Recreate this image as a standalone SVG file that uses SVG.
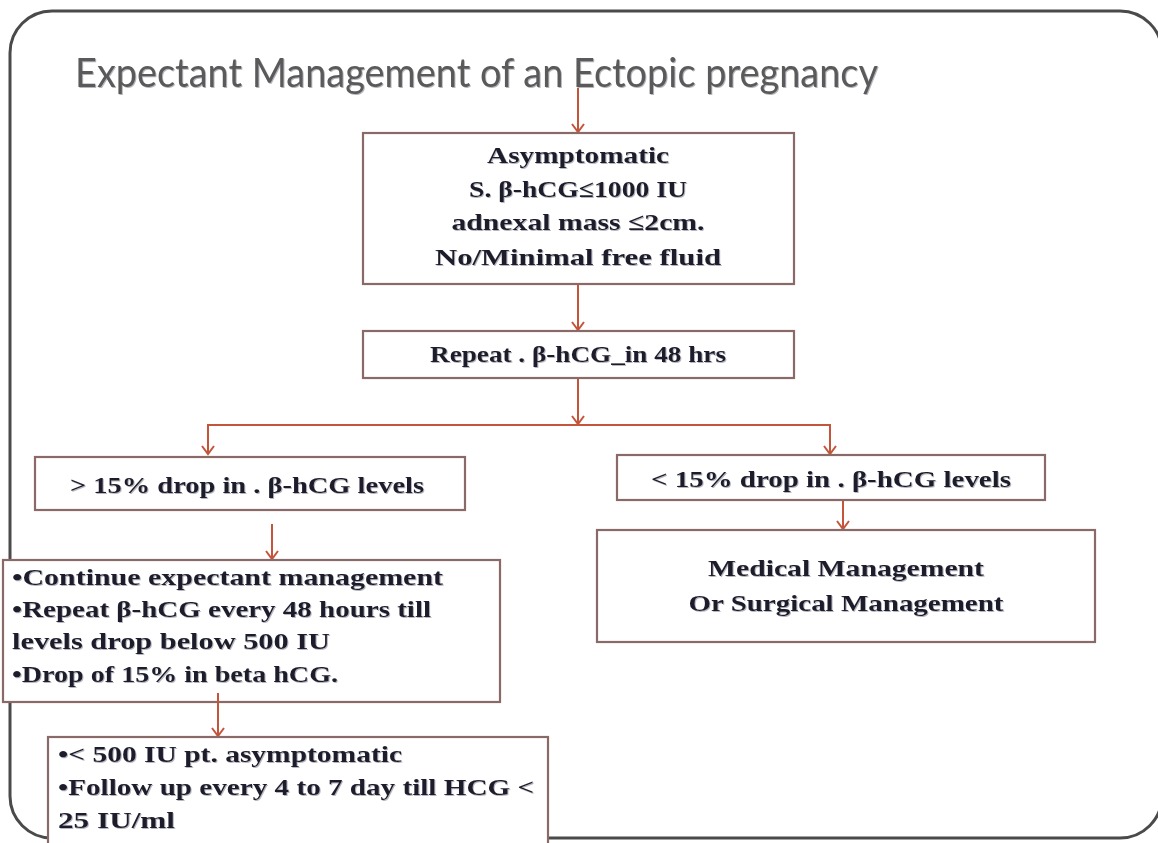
<svg xmlns="http://www.w3.org/2000/svg" width="1158" height="843" viewBox="0 0 1158 843">
<style>
.box{fill:#ffffff;stroke:#8a6a68;stroke-width:2.2}
.t{font-family:"Liberation Serif","Times New Roman",serif;font-weight:bold;font-size:24px;fill:#1c1c2c}
.c{text-anchor:middle}
.con{stroke:#c4553a;stroke-width:2;fill:none}
</style>
<defs>
<marker id="ah" markerUnits="userSpaceOnUse" markerWidth="12" markerHeight="14" viewBox="0 0 12 14" refX="10" refY="7" orient="auto-start-reverse">
<path d="M2,1 L10,7 L2,13" fill="none" stroke="#c4553a" stroke-width="2"/>
</marker>
<filter id="sh" x="-5%" y="-20%" width="110%" height="140%">
<feDropShadow dx="1" dy="1" stdDeviation="0.6" flood-color="#7a7a8a" flood-opacity="0.55"/>
</filter>
</defs>
<rect width="1158" height="843" fill="#ffffff"/>
<rect id="frame" x="10" y="11" width="1152" height="827" rx="42" ry="42" fill="none" stroke="#4a4a4a" stroke-width="3"/>
<g id="title">
<text x="75" y="87" font-family="Lato,'Open Sans',sans-serif" font-size="40" fill="#5a5a5a" textLength="803" lengthAdjust="spacingAndGlyphs" filter="url(#sh)">Expectant Management of an Ectopic pregnancy</text>
</g>
<g id="connectors">
<line class="con" x1="578" y1="88" x2="578" y2="132" marker-end="url(#ah)"/>
<line class="con" x1="578" y1="285" x2="578" y2="330" marker-end="url(#ah)"/>
<line class="con" x1="578" y1="379" x2="578" y2="424" marker-end="url(#ah)"/>
<polyline class="con" points="208,454 208,425 830,425 830,454" stroke="#d26e52" marker-start="url(#ah)" marker-end="url(#ah)"/>
<line class="con" x1="843" y1="501" x2="843" y2="529" marker-end="url(#ah)"/>
<line class="con" x1="272" y1="524" x2="272" y2="559" marker-end="url(#ah)"/>
</g>
<g id="n1">
<rect class="box" x="363" y="133" width="431" height="151"/>
<g class="t c" filter="url(#sh)">
<text x="578" y="163" textLength="182" lengthAdjust="spacingAndGlyphs">Asymptomatic</text>
<text x="578" y="197" textLength="218" lengthAdjust="spacingAndGlyphs">S. β-hCG≤1000 IU</text>
<text x="578" y="230" textLength="253" lengthAdjust="spacingAndGlyphs">adnexal mass ≤2cm.</text>
<text x="578" y="265" textLength="286" lengthAdjust="spacingAndGlyphs">No/Minimal free fluid</text>
</g>
</g>
<g id="n2">
<rect class="box" x="363" y="331" width="431" height="47"/>
<text class="t c" x="578" y="362" textLength="296" lengthAdjust="spacingAndGlyphs" filter="url(#sh)">Repeat . β-hCG_in 48 hrs</text>
</g>
<g id="n3">
<rect class="box" x="35" y="457" width="430" height="53"/>
<text class="t c" x="247" y="493" textLength="354" lengthAdjust="spacingAndGlyphs" filter="url(#sh)">&gt; 15% drop in . β-hCG levels</text>
</g>
<g id="n4">
<rect class="box" x="617" y="455" width="428" height="45"/>
<text class="t c" x="831" y="487" textLength="360" lengthAdjust="spacingAndGlyphs" filter="url(#sh)">&lt; 15% drop in . β-hCG  levels</text>
</g>
<g id="n5">
<rect class="box" x="597" y="530" width="498" height="112"/>
<g class="t c" filter="url(#sh)">
<text x="846" y="576" textLength="276" lengthAdjust="spacingAndGlyphs">Medical Management</text>
<text x="846" y="611" textLength="315" lengthAdjust="spacingAndGlyphs">Or Surgical Management</text>
</g>
</g>
<g id="n6">
<rect class="box" x="3" y="560" width="497" height="142"/>
<g class="t" filter="url(#sh)">
<text x="12" y="585" textLength="431" lengthAdjust="spacingAndGlyphs">•Continue expectant management</text>
<text x="12" y="617" textLength="419" lengthAdjust="spacingAndGlyphs">•Repeat β-hCG every 48 hours till</text>
<text x="12" y="649" textLength="318" lengthAdjust="spacingAndGlyphs">levels drop  below 500 IU</text>
<text x="12" y="682" textLength="326" lengthAdjust="spacingAndGlyphs">•Drop of 15% in beta hCG.</text>
</g>
</g>
<g id="connectors2">
<line class="con" x1="218" y1="693" x2="218" y2="736" marker-end="url(#ah)"/>
</g>
<g id="n7">
<rect class="box" x="48" y="737" width="500" height="112"/>
<g class="t" filter="url(#sh)">
<text x="58" y="762" textLength="344" lengthAdjust="spacingAndGlyphs">•&lt; 500 IU pt. asymptomatic</text>
<text x="58" y="795" textLength="476" lengthAdjust="spacingAndGlyphs">•Follow up every 4 to 7 day till HCG &lt;</text>
<text x="58" y="828" textLength="117" lengthAdjust="spacingAndGlyphs">25 IU/ml</text>
</g>
</g>
</svg>
